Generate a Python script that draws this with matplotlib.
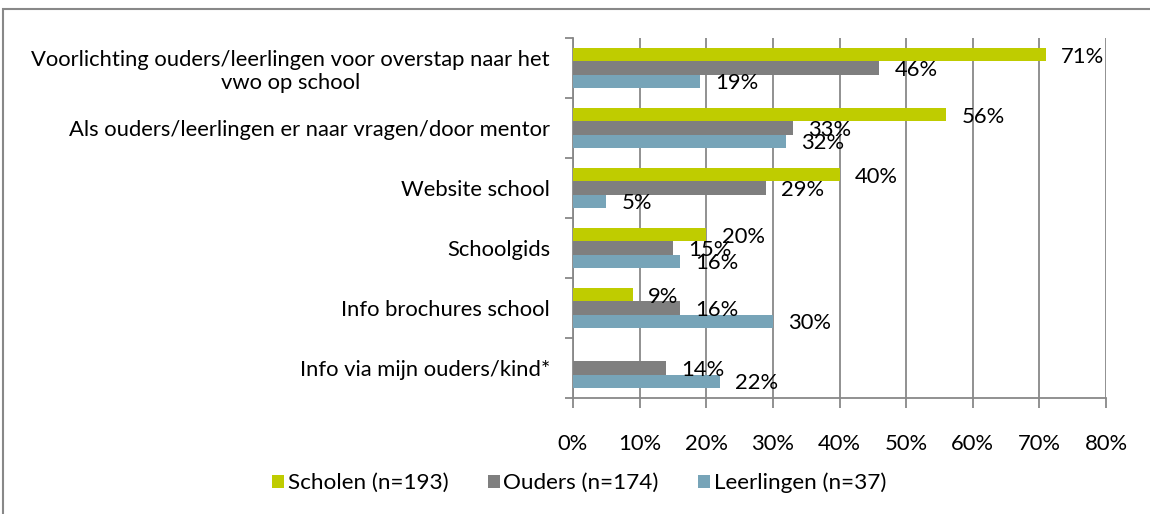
import matplotlib
matplotlib.use("Agg")
import matplotlib.pyplot as plt
import numpy as np
from matplotlib.patches import Rectangle, Patch

plt.rcParams['font.family'] = ['Lato', 'DejaVu Sans']

categories = [
    "Voorlichting ouders/leerlingen voor overstap naar het\nvwo op school",
    "Als ouders/leerlingen er naar vragen/door mentor",
    "Website school",
    "Schoolgids",
    "Info brochures school",
    "Info via mijn ouders/kind*",
]
series_names = ["Scholen (n=193)", "Ouders (n=174)", "Leerlingen (n=37)"]
scholen = [71, 56, 40, 20, 9, None]
ouders = [46, 33, 29, 15, 16, 14]
leerlingen = [19, 32, 5, 16, 30, 22]
xticks = [0, 10, 20, 30, 40, 50, 60, 70, 80]
colors = ["#BFCC00", "#7F7F7F", "#77A4B8"]

FS = 15.8
fig = plt.figure(figsize=(11.5, 5.14), dpi=100)
ax = fig.add_axes([573/1150, 1-398/514, (1106-573)/1150, (398-38)/514])

y = np.arange(len(categories))
h = 0.217
offsets = [-h, 0, h]
for vals, off, col in zip([scholen, ouders, leerlingen], offsets, colors):
    v = np.array([np.nan if x is None else x for x in vals], dtype=float)
    ax.barh(y + off, v, height=h, color=col, zorder=3)
    for yi, vi in zip(y, v):
        if np.isnan(vi):
            continue
        ax.annotate(f"{int(vi)}%", (vi, yi + off), xytext=(11, -1.5),
                    textcoords="offset points", ha="left", va="center",
                    fontsize=FS, color="black", zorder=5)

ax.set_xlim(0, 80)
ax.set_ylim(len(categories) - 0.5, -0.5)
ax.set_xticks(xticks)
ax.set_xticklabels([f"{t}%" for t in xticks], fontsize=FS)
ax.set_yticks(y)
ax.set_yticklabels(categories, fontsize=FS, ha="right", multialignment="center")
ax.set_yticks(np.arange(-0.5, len(categories)), minor=True)
ax.tick_params(axis="y", which="major", length=0, pad=16.5)
ax.tick_params(axis="y", which="minor", length=6, color="#888888", width=1.3, direction="out")
ax.tick_params(axis="x", length=7, color="#888888", width=1.3, pad=19)
ax.grid(axis="x", color="#888888", linewidth=1.3, zorder=0)
ax.set_axisbelow(True)
for s in ["top", "right"]:
    ax.spines[s].set_visible(False)
for s in ["left", "bottom"]:
    ax.spines[s].set_color("#888888")
    ax.spines[s].set_linewidth(1.3)

handles = [Patch(facecolor=c, edgecolor="none") for c in colors]
fig.legend(handles, series_names, loc="center", bbox_to_anchor=(579/1150, 1-483/514),
           ncol=3, frameon=False, fontsize=16.2, handlelength=0.55, handleheight=0.55,
           handletextpad=0.15, columnspacing=1.75)

fig.patches.append(Rectangle((3/1150, -0.1), 1.2, 0.1 + (514-9)/514, transform=fig.transFigure,
                             fill=False, edgecolor="#888888", linewidth=1.5))

fig.savefig("out.png", dpi=100)
